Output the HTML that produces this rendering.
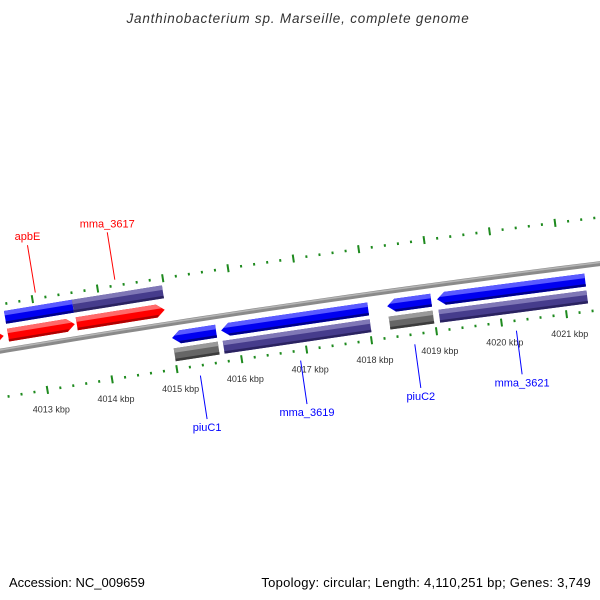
<!DOCTYPE html>
<html><head><meta charset="utf-8"><style>
html,body{margin:0;padding:0;background:#fff;}
svg{display:block;font-family:"Liberation Sans","DejaVu Sans",sans-serif;}
</style></head><body>
<svg id="map" width="600" height="600" viewBox="0 0 600 600" xmlns="http://www.w3.org/2000/svg">
<text x="298" y="23" text-anchor="middle" font-size="13.5" font-style="italic" letter-spacing="0.8" fill="#333">Janthinobacterium sp. Marseille, complete genome</text>
<g id="ticks"></g>
<g id="backbone"></g>
<g id="genes"></g>
<g id="labels"></g>
<text x="9" y="587" font-size="13" fill="#000">Accession: NC_009659</text>
<text x="591" y="587" text-anchor="end" font-size="13" letter-spacing="0.26" fill="#000">Topology: circular; Length: 4,110,251 bp; Genes: 3,749</text>
</svg>
<script>
// ---- data ----
const geneStarts = [4011500, 4012546, 4013603, 4012546, 4013589, 4015000, 4015755, 4018308, 4019074, 4015000, 4015755, 4018308, 4019074];
const geneEnds   = [4012480, 4013574, 4014956, 4013589, 4014971, 4015678, 4018016, 4018983, 4021346, 4015678, 4018016, 4018983, 4021346];
const geneTracks = [1, 1, 1, 2, 2, -1, -1, -1, -1, -2, -2, -2, -2];
const geneKinds  = ["red-fwd","red-fwd","red-fwd","blue","purple","blue-rev","blue-rev","blue-rev","blue-rev","gray","purple","gray","purple"];
const labelNames = ["apbE","mma_3617","piuC1","mma_3619","piuC2","mma_3621"];
const labelGenes = [1, 2, 9, 10, 11, 12];
const tickStart = 4011000, tickEnd = 4023000, tickStep = 200, majorStep = 1000;

// ---- geometry (circular map axis) ----
const CX = 2285, CY = 13910, R = 13750;
const trackOffset = {"2": 32.5, "1": 14.5, "-1": -14.5, "-2": -31.5};
const TH = 13;
function ang(bp){ return (-8.849 + (bp - 4015000) / 1000 * 0.2742) * Math.PI / 180; }
function pt(bp, r){ const a = ang(bp); return [CX + r * Math.sin(a), CY - r * Math.cos(a)]; }
function P(p){ return p[0].toFixed(2) + "," + p[1].toFixed(2); }
const NS = "http://www.w3.org/2000/svg";
function mk(tag, attrs, parent){ const e = document.createElementNS(NS, tag); for (const k in attrs) e.setAttribute(k, attrs[k]); parent.appendChild(e); return e; }

// backbone
const bb = document.getElementById("backbone");
function arcPath(r, b0, b1){ let d = ""; for (let b = b0; b <= b1; b += 250){ const p = pt(b, r); d += (d ? "L" : "M") + P(p); } return d; }
const bbMain = mk("path", {d: arcPath(R, 4011000, 4023000), stroke: "#8a8a8a", "stroke-width": 5, fill: "none"}, bb);


const bbHi = mk("path", {d: arcPath(R + 1.2, 4011000, 4023000), stroke: "#b5b5b5", "stroke-width": 1.5, fill: "none"}, bb);



// ticks
const tg = document.getElementById("ticks");
for (let b = tickStart; b <= tickEnd; b += tickStep){
  const major = (b % majorStep === 0);
  const len = major ? 8 : 2.6;
  [46, -46].forEach(function(off){
    const p0 = pt(b, R + off - len / 2), p1 = pt(b, R + off + len / 2);
    const t = mk("line", {x1: p0[0], y1: p0[1], x2: p1[0], y2: p1[1], stroke: "#1e8a1e", "stroke-width": 2}, tg);
    
    
  });
  if (major){
    const lp = pt(b, R - 64);
    if (lp[0] > 20 && lp[0] < 590){
      const tx = mk("text", {x: lp[0] + 1, y: lp[1] + 5, "text-anchor": "middle", "font-size": 9, fill: "#333"}, tg);
      tx.textContent = (b / 1000) + " kbp";
      
      
    }
  }
}

// genes
const colors = {
  "red-fwd": ["#ff0000", "#ff6a6a", "#b00000"],
  "blue": ["#0000f0", "#5a5aff", "#00008a"],
  "blue-rev": ["#0000f0", "#5a5aff", "#00008a"],
  "purple": ["#463c8c", "#7f77b6", "#2a2260"],
  "gray": ["#666666", "#9a9a9a", "#3c3c3c"]
};
const gg = document.getElementById("genes");
for (let i = 0; i < geneStarts.length; i++){
  const kind = geneKinds[i], c = colors[kind];
  const rc = R + trackOffset[String(geneTracks[i])];
  const rIn = rc - TH / 2, rOut = rc + TH / 2;
  const s = geneStarts[i], e = geneEnds[i];
  const hb = 8 / 65.8 * 1000;
  let pts;
  if (kind === "red-fwd"){
    pts = [pt(s, rIn), pt(s, rOut), pt(e - hb, rOut), pt(e, rc), pt(e - hb, rIn)];
  } else if (kind === "blue-rev"){
    pts = [pt(s + hb, rIn), pt(s, rc), pt(s + hb, rOut), pt(e, rOut), pt(e, rIn)];
  } else {
    pts = [pt(s, rIn), pt(s, rOut), pt(e, rOut), pt(e, rIn)];
  }
  const g = mk("g", {}, gg);
  
  
  mk("polygon", {points: pts.map(P).join(" "), fill: c[0]}, g);
  const rh0 = rOut - 4.5;
  let hp;
  if (kind === "red-fwd") hp = [pt(s, rh0), pt(s, rOut), pt(e - hb, rOut), pt(e - hb * 0.35, rh0)];
  else if (kind === "blue-rev") hp = [pt(s + hb * 0.35, rh0), pt(s + hb, rOut), pt(e, rOut), pt(e, rh0)];
  else hp = [pt(s, rh0), pt(s, rOut), pt(e, rOut), pt(e, rh0)];
  mk("polygon", {points: hp.map(P).join(" "), fill: c[1]}, g);
  const rd1 = rIn + 2.5;
  let dp;
  if (kind === "red-fwd") dp = [pt(s, rIn), pt(s, rd1), pt(e - hb * 0.8, rd1), pt(e - hb, rIn)];
  else if (kind === "blue-rev") dp = [pt(s + hb, rIn), pt(s + hb * 0.8, rd1), pt(e, rd1), pt(e, rIn)];
  else dp = [pt(s, rIn), pt(s, rd1), pt(e, rd1), pt(e, rIn)];
  mk("polygon", {points: dp.map(P).join(" "), fill: c[2]}, g);
}

// labels
const lg = document.getElementById("labels");
for (let j = 0; j < labelNames.length; j++){
  const gi = labelGenes[j];
  const mid = (geneStarts[gi] + geneEnds[gi]) / 2;
  const tr = geneTracks[gi];
  const up = tr > 0;
  const col = up ? "#ff0000" : "#0000ff";
  const p0 = pt(mid, R + (up ? 52 : -56));
  const p1 = pt(mid, R + (up ? 100 : -100));
  const l = mk("line", {x1: p0[0], y1: p0[1], x2: p1[0], y2: p1[1], stroke: col, "stroke-width": 1}, lg);
  
  
  const t = mk("text", {x: p1[0], y: up ? p1[1] - 5 : p1[1] + 12, "text-anchor": "middle", "font-size": 11, fill: col}, lg);
  t.textContent = labelNames[j];
  
  
}
</script>
</body></html>
